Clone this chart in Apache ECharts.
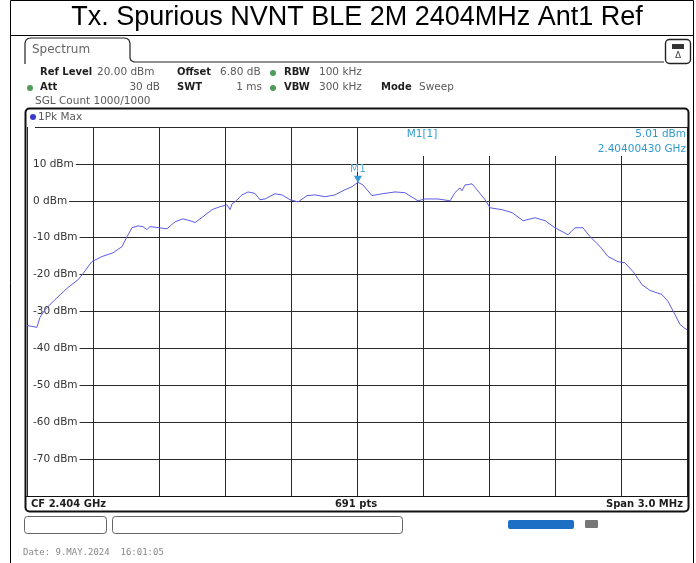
<!DOCTYPE html>
<html>
<head>
<meta charset="utf-8">
<script src="https://cdn.jsdelivr.net/npm/echarts@6/dist/echarts.min.js"></script>
<style>
  html, body { margin: 0; padding: 0; background: #fff; }
  #chart { width: 696px; height: 563px; }
</style>
</head>
<body>
<div id="chart"></div>
<script>
// Analyzer settings
const titleText = 'Tx. Spurious NVNT BLE 2M 2404MHz Ant1 Ref';
const centerGHz = 2.404;
const spanMHz = 3.0;
const sweepPoints = 691;
const refLevelDbm = 20;
const bottomDbm = -80;
const levelStep = 10;

// Peak-hold trace (frequency in MHz, level in dBm)
const freqMHz = [
  2402.500, 2402.520, 2402.545, 2402.559, 2402.582, 2402.627, 2402.686, 2402.732,
  2402.755, 2402.795, 2402.841, 2402.891, 2402.932, 2402.955, 2402.977, 2403.005,
  2403.027, 2403.036, 2403.045, 2403.059, 2403.100, 2403.136, 2403.173, 2403.209,
  2403.241, 2403.264, 2403.300, 2403.341, 2403.377, 2403.409, 2403.423, 2403.432,
  2403.445, 2403.477, 2403.505, 2403.536, 2403.559, 2403.582, 2403.627, 2403.659,
  2403.695, 2403.732, 2403.773, 2403.809, 2403.855, 2403.900, 2403.945, 2403.977,
  2404.0043, 2404.027, 2404.068, 2404.114, 2404.173, 2404.218, 2404.277, 2404.309,
  2404.368, 2404.423, 2404.445, 2404.468, 2404.477, 2404.491, 2404.505, 2404.523,
  2404.545, 2404.582, 2404.605, 2404.659, 2404.705, 2404.755, 2404.809, 2404.855,
  2404.900, 2404.959, 2404.991, 2405.027, 2405.059, 2405.105, 2405.141, 2405.186,
  2405.218, 2405.255, 2405.295, 2405.332, 2405.386, 2405.414, 2405.445, 2405.468,
  2405.491, 2405.500
];
const levelDbm = [
  -33.8, -34.0, -34.3, -31.6, -29.5, -26.8, -23.5, -21.4,
  -19.7, -16.5, -15.1, -14.1, -12.4, -9.7, -7.3, -6.8,
  -7.0, -7.0, -7.8, -7.0, -7.3, -7.6, -5.7, -4.9,
  -5.4, -5.9, -4.3, -2.4, -1.6, -1.1, -2.4, -0.8,
  -0.3, 1.6, 2.4, 2.0, 0.3, 0.5, 1.9, 1.6,
  0.3, -0.3, 1.4, 1.6, 1.1, 1.6, 3.0, 3.8,
  5.01, 4.3, 1.4, 1.9, 2.4, 2.2, 0.0, 0.5,
  0.5, 0.0, 2.2, 3.5, 2.7, 4.3, 4.4, 4.6,
  3.0, 0.3, -1.9, -2.4, -3.2, -5.4, -4.6, -5.4,
  -7.3, -9.2, -7.3, -7.3, -9.7, -12.4, -15.1, -16.5,
  -16.8, -19.2, -22.7, -24.3, -25.4, -27.3, -30.8, -33.5,
  -34.6, -34.9
];

// Marker M1
const markerName = 'M1';
const markerFreqGHz = 2.40400430;
const markerLevelDbm = 5.01;

const startMHz = centerGHz * 1000 - spanMHz / 2;
const toOffsetKHz = f => Math.round((f - startMHz) * 1000 * 10) / 10;
const traceData = freqMHz.map((f, i) => [toOffsetKHz(f), levelDbm[i]]);

const FONT = 'DejaVu Sans';
const dark = '#1e1e1e';
const grey = '#5a5a5a';
const markerBlue = '#2f9bd0';
const SZ = '10.5px';

function txt(x, y, s, opt) {
  return {
    type: 'text', x: x, y: y, z: 5,
    style: Object.assign({ text: s, fill: dark, font: SZ + ' "' + FONT + '"', textVerticalAlign: 'middle' }, opt || {})
  };
}
function bold(x, y, s, opt) {
  return txt(x, y, s, Object.assign({ font: 'bold 10px "' + FONT + '"' }, opt || {}));
}
function dot(x, y, color) {
  return { type: 'circle', z: 5, shape: { cx: x, cy: y, r: 3 }, style: { fill: color } };
}

const chart = echarts.init(document.getElementById('chart'), null, { renderer: 'canvas' });

const graphics = [
  // outer frame and title band
  { type: 'rect', z: 4, shape: { x: 10.5, y: 0.5, width: 683, height: 570 }, style: { fill: null, stroke: '#000', lineWidth: 1 } },
  { type: 'line', z: 4, shape: { x1: 10, y1: 35.5, x2: 694, y2: 35.5 }, style: { stroke: '#000', lineWidth: 1.2 } },
  { type: 'text', z: 5, x: 357, y: 18, style: { text: titleText, fill: '#000', font: '27px "Liberation Sans"', textAlign: 'center', textVerticalAlign: 'middle' } },

  // tab outline
  { type: 'polyline', z: 4, shape: { points: [[25, 64], [25, 43], [26, 40], [28, 38.5], [31, 38], [124, 38], [127, 38.5], [129, 40], [130, 43], [130, 58], [131, 60.5], [134, 62], [664, 62]] },
    style: { fill: null, stroke: '#222', lineWidth: 1.2 } },
  txt(32, 50, 'Spectrum', { fill: '#666', font: '12px "' + FONT + '"' }),
  { type: 'rect', z: 4, shape: { x: 665.5, y: 39.5, width: 25, height: 24, r: 4 }, style: { fill: '#fff', stroke: '#222', lineWidth: 1.4 } },
  { type: 'rect', z: 5, shape: { x: 672, y: 44, width: 12, height: 5 }, style: { fill: '#333' } },
  txt(678, 56, '\u0394', { fill: '#444', font: '9px "' + FONT + '"', textAlign: 'center' }),

  // setting rows
  bold(40, 72, 'Ref Level'),
  txt(97, 72, refLevelDbm.toFixed(2) + ' dBm', { fill: grey }),
  bold(177, 72, 'Offset'),
  txt(220, 72, '6.80 dB', { fill: grey }),
  dot(273, 73, '#4f9d5b'),
  bold(284, 72, 'RBW'),
  txt(319, 72, '100 kHz', { fill: grey }),

  dot(30, 88, '#4f9d5b'),
  bold(40, 87, 'Att'),
  txt(160, 87, '30 dB', { fill: grey, textAlign: 'right' }),
  bold(177, 87, 'SWT'),
  txt(262, 87, '1 ms', { fill: grey, textAlign: 'right' }),
  dot(273, 88, '#4f9d5b'),
  bold(284, 87, 'VBW'),
  txt(319, 87, '300 kHz', { fill: grey }),
  bold(381, 87, 'Mode'),
  txt(419, 87, 'Sweep', { fill: grey }),
  txt(35, 101, 'SGL Count 1000/1000', { fill: grey }),

  // diagram frame
  { type: 'rect', z: 6, shape: { x: 25.5, y: 108.5, width: 663, height: 403, r: 4 }, style: { fill: null, stroke: '#111', lineWidth: 2 } },
  dot(33, 117, '#3a3ad0'),
  txt(38, 117, '1Pk Max', { fill: grey }),

  // marker readout
  { type: 'rect', z: 1, shape: { x: 359, y: 128, width: 328, height: 28 }, style: { fill: '#fff' } },
  txt(422, 134, markerName + '[1]', { fill: markerBlue, textAlign: 'center' }),
  txt(686, 134, markerLevelDbm.toFixed(2) + ' dBm', { fill: markerBlue, textAlign: 'right' }),
  txt(686, 149, markerFreqGHz.toFixed(8) + ' GHz', { fill: markerBlue, textAlign: 'right' }),

  // footer bar
  { type: 'line', z: 4, shape: { x1: 26, y1: 496.5, x2: 688, y2: 496.5 }, style: { stroke: '#111', lineWidth: 1 } },
  bold(31, 504, 'CF ' + centerGHz.toFixed(3) + ' GHz'),
  bold(356, 504, sweepPoints + ' pts', { textAlign: 'center' }),
  bold(683, 504, 'Span ' + spanMHz.toFixed(1) + ' MHz', { textAlign: 'right' }),

  // status boxes
  { type: 'rect', z: 4, shape: { x: 24.5, y: 516.5, width: 82, height: 17, r: 3 }, style: { fill: '#fff', stroke: '#666', lineWidth: 1 } },
  { type: 'rect', z: 4, shape: { x: 112.5, y: 516.5, width: 290, height: 17, r: 3 }, style: { fill: '#fff', stroke: '#666', lineWidth: 1 } },
  { type: 'rect', z: 4, shape: { x: 508, y: 520, width: 66, height: 9, r: 2 }, style: { fill: '#1c6fc4' } },
  { type: 'rect', z: 4, shape: { x: 585, y: 520, width: 13, height: 8, r: 1 }, style: { fill: '#777' } },
  txt(23, 553, 'Date: 9.MAY.2024  16:01:05', { fill: '#888', font: '9px "DejaVu Sans Mono"' })
];

chart.setOption({
  animation: false,
  backgroundColor: '#fff',
  grid: { left: 27, top: 127, width: 660, height: 369, show: false },
  xAxis: {
    type: 'value', min: 0, max: spanMHz * 1000, interval: 300,
    axisLine: { show: false }, axisTick: { show: false }, axisLabel: { show: false },
    splitLine: { show: true, lineStyle: { color: '#2a2a2a', width: 1 } }
  },
  yAxis: {
    type: 'value', min: bottomDbm, max: refLevelDbm, interval: levelStep,
    axisLine: { show: false }, axisTick: { show: false },
    splitLine: { show: true, lineStyle: { color: '#2a2a2a', width: 1 } },
    axisLabel: {
      inside: true, margin: 1, color: '#333', fontFamily: FONT, fontSize: 10.5,
      backgroundColor: '#fff', padding: [1, 2, 1, 5],
      formatter: v => (v >= refLevelDbm || v <= bottomDbm) ? '' : v + ' dBm'
    }
  },
  series: [{
    type: 'line',
    data: traceData,
    showSymbol: false,
    lineStyle: { color: '#5c5ce6', width: 1 },
    itemStyle: { color: '#5c5ce6' },
    z: 3,
    markPoint: {
      symbol: 'triangle', symbolRotate: 180, symbolSize: [8, 7], symbolOffset: [0, -3],
      itemStyle: { color: markerBlue },
      label: { show: true, position: 'top', distance: 1, color: '#5ab0da', fontFamily: FONT, fontSize: 10.5, formatter: markerName },
      data: [{ coord: [toOffsetKHz(markerFreqGHz * 1000), markerLevelDbm] }]
    }
  }],
  graphic: graphics
});
</script>
</body>
</html>
